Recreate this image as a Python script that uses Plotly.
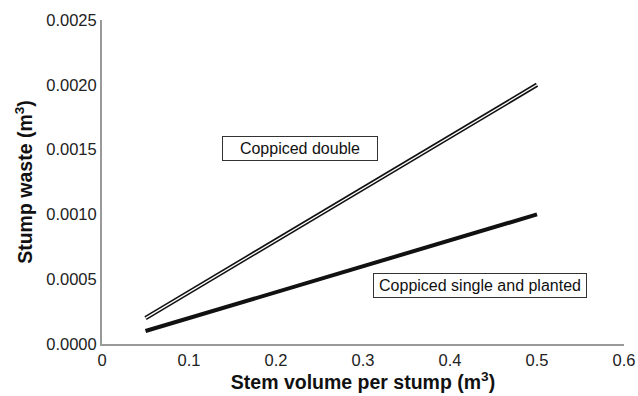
import plotly.graph_objects as go

stem_volume = [0.05, 0.5]
coppiced_double = [0.0002, 0.0020]
coppiced_single_planted = [0.0001, 0.0010]

x_ticks = [0, 0.1, 0.2, 0.3, 0.4, 0.5, 0.6]
x_tick_text = ["0", "0.1", "0.2", "0.3", "0.4", "0.5", "0.6"]
y_ticks = [0, 0.0005, 0.0010, 0.0015, 0.0020, 0.0025]
y_tick_text = ["0.0000", "0.0005", "0.0010", "0.0015", "0.0020", "0.0025"]

FONT = "Liberation Sans, Arial, sans-serif"

fig = go.Figure()
fig.add_trace(go.Scatter(x=stem_volume, y=coppiced_double, mode="lines",
                         line=dict(color="#111", width=4.5), showlegend=False))
fig.add_trace(go.Scatter(x=stem_volume, y=coppiced_double, mode="lines",
                         line=dict(color="white", width=1.3), showlegend=False))
fig.add_trace(go.Scatter(x=stem_volume, y=coppiced_single_planted, mode="lines",
                         line=dict(color="#111", width=4), showlegend=False))

fig.add_annotation(x=0.2276, y=0.001512, text="Coppiced double", showarrow=False,
                   width=148, align="center",
                   bordercolor="#333", borderwidth=1, borderpad=3, bgcolor="white",
                   font=dict(size=16, color="#111", family=FONT))
fig.add_annotation(x=0.4345, y=0.000451, text="Coppiced single and planted", showarrow=False,
                   width=206, align="center",
                   bordercolor="#333", borderwidth=1, borderpad=3, bgcolor="white",
                   font=dict(size=16, color="#111", family=FONT))

fig.update_layout(
    width=638, height=396,
    margin=dict(l=102, r=14, t=20, b=52),
    plot_bgcolor="white", paper_bgcolor="white",
    font=dict(family=FONT, size=16, color="#222"),
    xaxis=dict(range=[0, 0.6], tickvals=x_ticks, ticktext=x_tick_text,
               tickfont=dict(size=16.5, color="#222"), automargin=False,
               showgrid=False, zeroline=False, showline=True, linecolor="#999", linewidth=2,
               ticks="", title=dict(text="<b>Stem volume per stump (m<sup>3</sup>)</b>",
                                    font=dict(size=19.5, color="#111"), standoff=8)),
    yaxis=dict(range=[0, 0.0025], tickvals=y_ticks, ticktext=y_tick_text,
               tickfont=dict(size=16.5, color="#222"), automargin=False,
               showgrid=False, zeroline=False, showline=True, linecolor="#999", linewidth=2,
               ticks="", title=dict(text="<b>Stump waste (m<sup>3</sup>)</b>",
                                    font=dict(size=19.5, color="#111"), standoff=8)),
)

fig.write_html("out.html", config={"displayModeBar": False},
               post_script="document.body.style.margin='0';document.body.style.overflow='hidden';")
